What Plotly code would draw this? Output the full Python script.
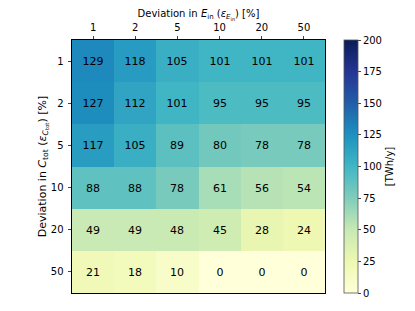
import plotly.graph_objects as go

x_labels = ["1", "2", "5", "10", "20", "50"]
y_labels = ["1", "2", "5", "10", "20", "50"]
z_values = [
    [129, 118, 105, 101, 101, 101],
    [127, 112, 101, 95, 95, 95],
    [117, 105, 89, 80, 78, 78],
    [88, 88, 78, 61, 56, 54],
    [49, 49, 48, 45, 28, 24],
    [21, 18, 10, 0, 0, 0],
]
cbar_ticks = [0, 25, 50, 75, 100, 125, 150, 175, 200]

ylgnbu = ["#ffffd9", "#edf8b1", "#c7e9b4", "#7fcdbb", "#41b6c4",
          "#1d91c0", "#225ea8", "#253494", "#081d58"]
colorscale = [[i / (len(ylgnbu) - 1), c] for i, c in enumerate(ylgnbu)]

font = "DejaVu Sans"

fig = go.Figure(go.Heatmap(
    x=x_labels, y=y_labels, z=z_values,
    zmin=0, zmax=200, colorscale=colorscale,
    texttemplate="%{z}", textfont=dict(family=font, size=11, color="black"),
    colorbar=dict(
        x=1.075, xanchor="left", thickness=14, len=1.0, lenmode="fraction",
        y=0.0, yanchor="bottom", xpad=0, ypad=0,
        tickvals=cbar_ticks, ticks="outside", ticklen=3,
        tickfont=dict(family=font, size=10, color="black"),
        outlinecolor="#555", outlinewidth=0.8,
        title=dict(text="[TWh/y]", side="right", font=dict(family=font, size=10, color="black")),
    ),
))

# page body adds an 8px offset; margins compensate for it
fig.update_layout(
    width=407, height=303,
    margin=dict(l=64, r=90, t=32, b=18, autoexpand=False),
    paper_bgcolor="white", plot_bgcolor="white",
    font=dict(family=font, size=10, color="black"),
)
fig.update_xaxes(
    side="top", type="category", ticks="outside", ticklen=3.5, automargin=False,
    showline=True, mirror=True, linecolor="black", linewidth=0.8,
    tickfont=dict(family=font, size=10), ticklabelstandoff=1,
    title=dict(text="Deviation in <i>E</i><sub>in</sub> (<i>ε</i><sub><i>E</i><sub>in</sub></sub>) [%]",
               standoff=2, font=dict(family=font, size=10)),
)
fig.update_yaxes(
    type="category", autorange="reversed", ticks="outside", ticklen=3.5, automargin=False,
    showline=True, mirror=True, linecolor="black", linewidth=0.8,
    tickfont=dict(family=font, size=10), ticklabelstandoff=2,
    title=dict(text="Deviation in <i>C</i><sub>tot</sub> (<i>ε</i><sub><i>C</i><sub>tot</sub></sub>) [%]",
               standoff=2, font=dict(family=font, size=11)),
)

fig.write_html("out.html")
